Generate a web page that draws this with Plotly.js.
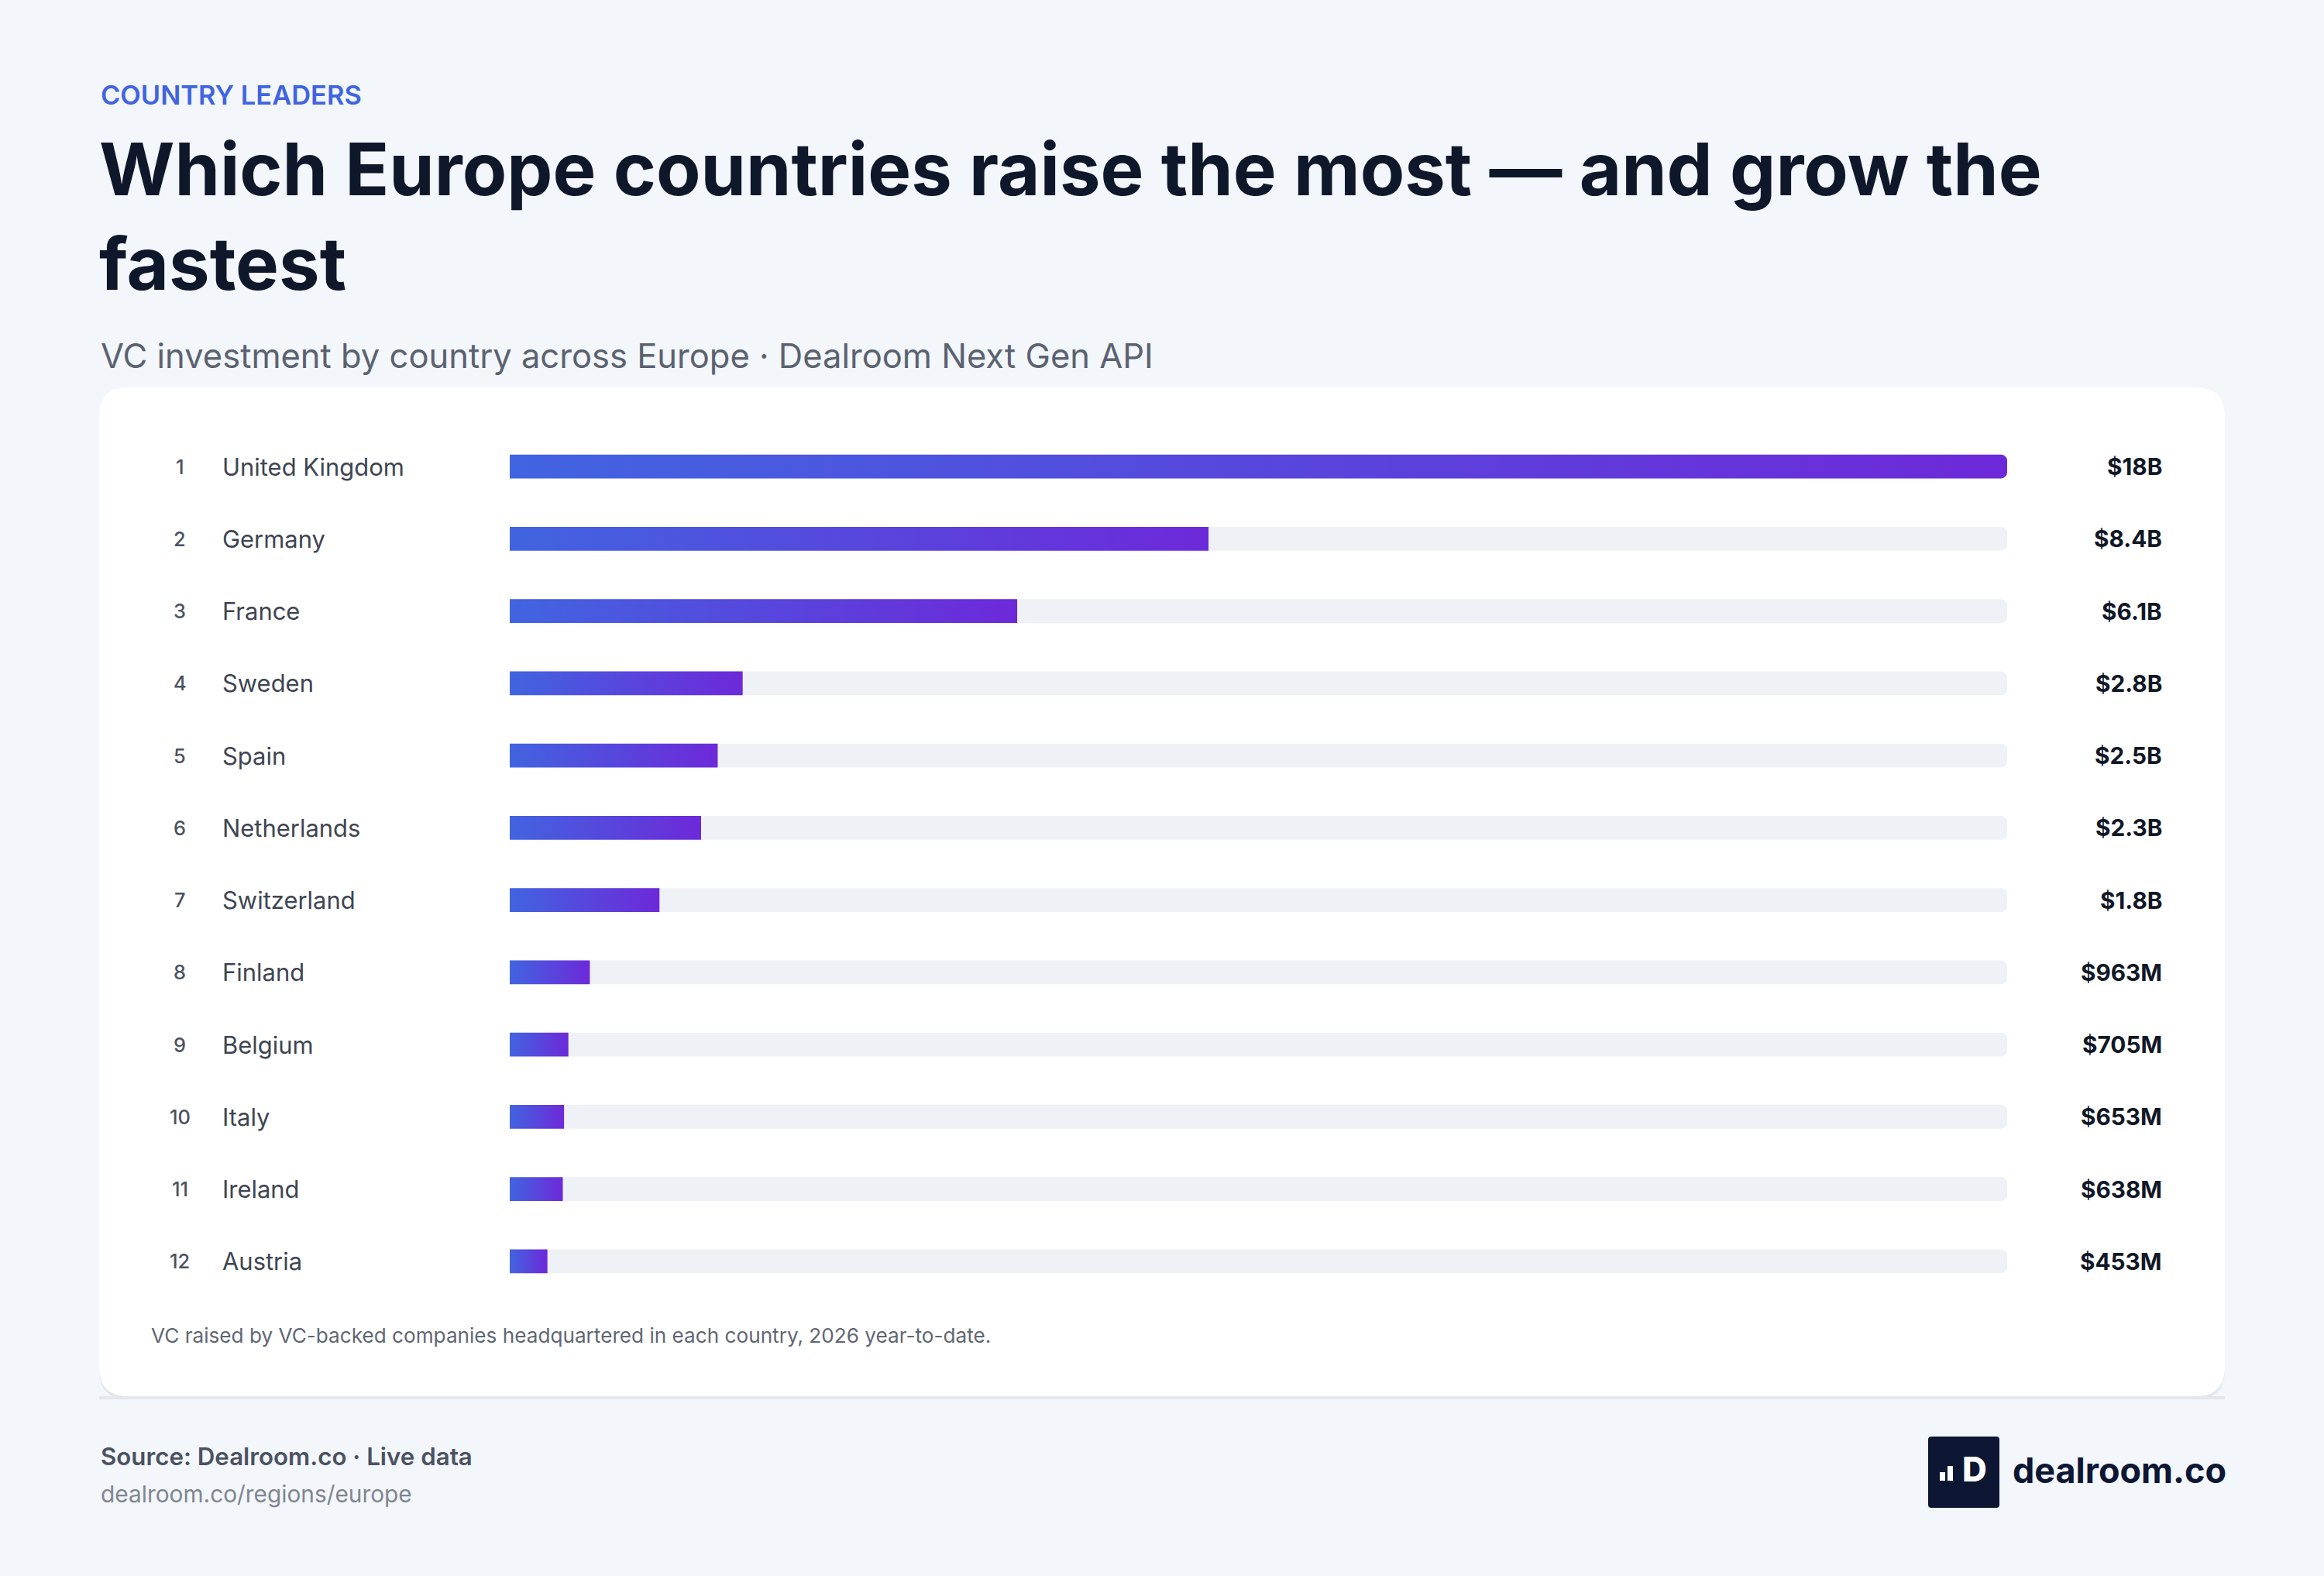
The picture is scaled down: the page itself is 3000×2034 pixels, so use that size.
<!DOCTYPE html>
<html>
<head>
<meta charset="utf-8">
<script src="https://cdn.plot.ly/plotly-3.0.1.min.js"></script>
<style>
  html, body { margin: 0; padding: 0; background: #f3f6fb; }
  #chart { width: 3000px; height: 2034px; }
</style>
</head>
<body>
<div id="chart"></div>
<script>
// ---------------- DATA ----------------
const ranks = ['1', '2', '3', '4', '5', '6', '7', '8', '9', '10', '11', '12'];
const countries = ['United Kingdom', 'Germany', 'France', 'Sweden', 'Spain', 'Netherlands',
                   'Switzerland', 'Finland', 'Belgium', 'Italy', 'Ireland', 'Austria'];
const valuesB = [18, 8.4, 6.1, 2.8, 2.5, 2.3, 1.8, 0.963, 0.705, 0.653, 0.638, 0.453];
const valueLabels = ['$18B', '$8.4B', '$6.1B', '$2.8B', '$2.5B', '$2.3B', '$1.8B',
                     '$963M', '$705M', '$653M', '$638M', '$453M'];

const kickerText = 'COUNTRY LEADERS';
const titleLine1 = 'Which Europe countries raise the most — and grow the';
const titleLine2 = 'fastest';
const subtitleText = 'VC investment by country across Europe · Dealroom Next Gen API';
const footnoteText = 'VC raised by VC-backed companies headquartered in each country, 2026 year-to-date.';
const sourceText = 'Source: Dealroom.co · Live data';
const urlText = 'dealroom.co/regions/europe';
const logoText = 'dealroom.co';

// ---------------- LAYOUT HELPERS ----------------
const W = 3000, H = 2034;
const px = x => x / W;
const py = y => 1 - y / H;
const FONT = 'Inter';

const cvs = document.createElement('canvas');
const ctx = cvs.getContext('2d');
function fit(text, weight, target) {
  ctx.font = weight + ' 100px ' + FONT;
  return 100 * target / ctx.measureText(text).width;
}

function roundRect(x0, y0, x1, y1, r) {
  return 'M' + px(x0 + r) + ',' + py(y0) +
    ' L' + px(x1 - r) + ',' + py(y0) +
    ' Q' + px(x1) + ',' + py(y0) + ' ' + px(x1) + ',' + py(y0 + r) +
    ' L' + px(x1) + ',' + py(y1 - r) +
    ' Q' + px(x1) + ',' + py(y1) + ' ' + px(x1 - r) + ',' + py(y1) +
    ' L' + px(x0 + r) + ',' + py(y1) +
    ' Q' + px(x0) + ',' + py(y1) + ' ' + px(x0) + ',' + py(y1 - r) +
    ' L' + px(x0) + ',' + py(y0 + r) +
    ' Q' + px(x0) + ',' + py(y0) + ' ' + px(x0 + r) + ',' + py(y0) + ' Z';
}

function draw() {
  const sKicker = fit(kickerText, 600, 337);
  const sTitle = fit(titleLine1, 700, 2508);
  const sSub = fit(subtitleText, 400, 1359);
  const sName = fit('United Kingdom', 400, 235);
  const sRank = fit('10', 500, 27);
  const sVal = fit('$8.4B', 700, 88);
  const sFoot = fit(footnoteText, 400, 1085);
  const sSource = fit(sourceText, 600, 480);
  const sUrl = fit(urlText, 400, 402);
  const sLogo = fit(logoText, 700, 276);

  const trackMax = Math.max(...valuesB);
  const trackValues = countries.map(() => trackMax);

  const rowTop = 555.4, rowBottom = 1674.6;

  const traces = [
    {
      type: 'bar', orientation: 'h',
      y: countries, x: trackValues,
      width: 0.33,
      marker: { color: '#eef1f6', cornerradius: 8, line: { width: 0 } },
      hoverinfo: 'skip', showlegend: false
    },
    {
      type: 'bar', orientation: 'h',
      y: countries, x: valuesB,
      width: 0.33,
      marker: { color: '#5546dc', cornerradius: 8, line: { width: 0 } },
      hoverinfo: 'skip', showlegend: false
    }
  ];

  const annotations = [];
  const base = { showarrow: false, xref: 'paper', yref: 'paper', xanchor: 'left', yanchor: 'middle' };

  annotations.push(Object.assign({}, base, {
    x: px(128), y: py(122), text: kickerText,
    font: { family: FONT, size: sKicker, color: '#4164e1', weight: 600 }
  }));
  annotations.push(Object.assign({}, base, {
    x: px(128), y: py(459), text: subtitleText,
    font: { family: FONT, size: sSub, color: '#5b6270', weight: 400 }
  }));
  annotations.push(Object.assign({}, base, {
    x: px(193), y: py(1723), text: footnoteText,
    font: { family: FONT, size: sFoot, color: '#5f6673', weight: 400 }
  }));
  annotations.push(Object.assign({}, base, {
    x: px(128), y: py(1880), text: sourceText,
    font: { family: FONT, size: sSource, color: '#4b5261', weight: 600 }
  }));
  annotations.push(Object.assign({}, base, {
    x: px(128), y: py(1928), text: urlText,
    font: { family: FONT, size: sUrl, color: '#80868f', weight: 400 }
  }));
  annotations.push(Object.assign({}, base, {
    x: px(2596), y: py(1897), text: logoText,
    font: { family: FONT, size: sLogo, color: '#0d1733', weight: 700 }
  }));
  annotations.push(Object.assign({}, base, {
    x: px(2549), xanchor: 'center', y: py(1896), text: 'D',
    font: { family: FONT, size: 44, color: '#ffffff', weight: 800 }
  }));

  countries.forEach((c, i) => {
    annotations.push({
      showarrow: false, xref: 'paper', yref: 'y', x: px(232), y: c,
      xanchor: 'center', yanchor: 'middle', text: ranks[i],
      font: { family: FONT, size: sRank, color: '#4b5261', weight: 500 }
    });
    annotations.push({
      showarrow: false, xref: 'paper', yref: 'y', x: px(285), y: c,
      xanchor: 'left', yanchor: 'middle', text: c,
      font: { family: FONT, size: sName, color: '#3e4552', weight: 400 }
    });
    annotations.push({
      showarrow: false, xref: 'paper', yref: 'y', x: px(2793), y: c,
      xanchor: 'right', yanchor: 'middle', text: valueLabels[i],
      font: { family: FONT, size: sVal, color: '#111827', weight: 700 }
    });
  });

  const shapes = [
    { type: 'path', xref: 'paper', yref: 'paper', layer: 'below',
      path: roundRect(128, 503, 2872, 1806, 38),
      fillcolor: '#e3e6ec', line: { width: 0 } },
    { type: 'path', xref: 'paper', yref: 'paper', layer: 'below',
      path: roundRect(128, 500, 2872, 1802, 38),
      fillcolor: '#ffffff', line: { width: 0 } },
    { type: 'rect', xref: 'paper', yref: 'paper', layer: 'below',
      x0: px(128), x1: px(2872), y0: py(1802), y1: py(1806),
      fillcolor: '#e3e6ec', line: { width: 0 } },
    // logo
    { type: 'path', xref: 'paper', yref: 'paper', layer: 'above',
      path: roundRect(2489, 1854, 2581, 1946, 4),
      fillcolor: '#0d1733', line: { width: 0 } },
    { type: 'rect', xref: 'paper', yref: 'paper', layer: 'above',
      x0: px(2504), x1: px(2511), y0: py(1900), y1: py(1911),
      fillcolor: '#ffffff', line: { width: 0 } },
    { type: 'rect', xref: 'paper', yref: 'paper', layer: 'above',
      x0: px(2514), x1: px(2521), y0: py(1892), y1: py(1911),
      fillcolor: '#ffffff', line: { width: 0 } }
  ];

  const layout = {
    width: W, height: H,
    margin: { l: 0, r: 0, t: 0, b: 0, pad: 0 },
    paper_bgcolor: '#f3f6fb',
    plot_bgcolor: 'rgba(0,0,0,0)',
    barmode: 'overlay',
    showlegend: false,
    title: {
      text: titleLine1 + '<br>' + titleLine2,
      xref: 'container', yref: 'container',
      x: px(128), xanchor: 'left',
      y: py(252), yanchor: 'middle',
      font: { family: FONT, size: sTitle, color: '#0f172a', weight: 700 }
    },
    xaxis: {
      domain: [px(658), px(2591)], range: [0, trackMax],
      visible: false, fixedrange: true
    },
    yaxis: {
      domain: [py(rowBottom), py(rowTop)],
      type: 'category', categoryorder: 'array', categoryarray: countries,
      range: [countries.length - 0.5, -0.5],
      visible: false, fixedrange: true
    },
    shapes: shapes,
    annotations: annotations
  };

  const gd = document.getElementById('chart');
  Plotly.newPlot(gd, traces, layout, { staticPlot: true, displayModeBar: false, responsive: false })
    .then(applyGradient);
  gd.on && gd.on('plotly_afterplot', () => applyGradient(gd));
}

function applyGradient(gd) {
  const ns = 'http://www.w3.org/2000/svg';
  const svg = gd.querySelector('svg.main-svg');
  if (!svg) return;
  let defs = svg.querySelector('defs');
  if (!defs) { defs = document.createElementNS(ns, 'defs'); svg.insertBefore(defs, svg.firstChild); }
  if (!svg.querySelector('#barGrad')) {
    const lg = document.createElementNS(ns, 'linearGradient');
    lg.setAttribute('id', 'barGrad');
    lg.setAttribute('x1', '0'); lg.setAttribute('y1', '0');
    lg.setAttribute('x2', '1'); lg.setAttribute('y2', '0');
    [['0%', '#4164e0'], ['100%', '#6d29d9']].forEach(([o, c]) => {
      const s = document.createElementNS(ns, 'stop');
      s.setAttribute('offset', o); s.setAttribute('stop-color', c);
      lg.appendChild(s);
    });
    defs.appendChild(lg);
  }
  const tr = gd.querySelectorAll('.barlayer .trace');
  if (tr.length > 1) {
    tr[1].querySelectorAll('path').forEach(p => { p.style.fill = 'url(#barGrad)'; });
  }
}

if (document.fonts && document.fonts.load) {
  Promise.all([
    document.fonts.load('400 40px Inter'),
    document.fonts.load('500 40px Inter'),
    document.fonts.load('600 40px Inter'),
    document.fonts.load('700 40px Inter')
  ]).then(draw, draw);
} else {
  draw();
}
</script>
</body>
</html>
